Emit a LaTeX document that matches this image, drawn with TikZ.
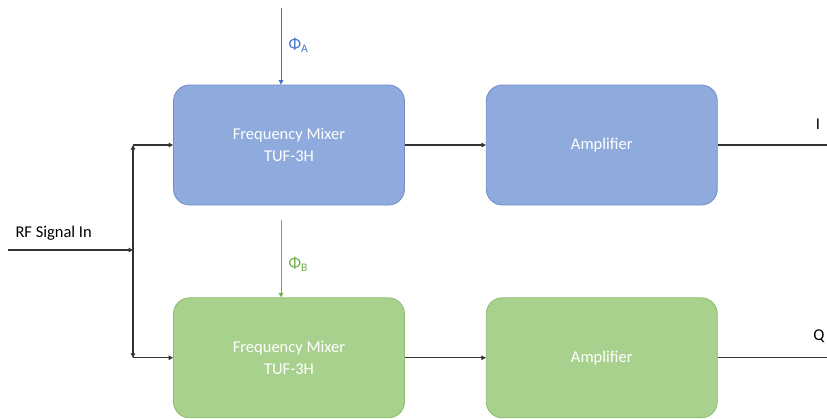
\documentclass[tikz,border=0pt]{standalone}
\usepackage{fontspec}
\setmainfont{Carlito}
\usetikzlibrary{arrows.meta,positioning,calc}
\definecolor{mixblue}{HTML}{8FAADC}
\definecolor{edgeblue}{HTML}{6F8FC8}
\definecolor{mixgreen}{HTML}{A9D18E}
\definecolor{edgegreen}{HTML}{8CBC6E}
\definecolor{phiblue}{HTML}{4472C4}
\definecolor{phigreen}{HTML}{70AD47}

\begin{document}
\begin{tikzpicture}[x=1pt,y=-1pt,every node/.style={font=\fontsize{16.5}{22}\selectfont},
  blk/.style={rounded corners=16pt,minimum width=231pt,minimum height=120pt,align=center,text=white,line width=0.8pt},
  blueblk/.style={blk,fill=mixblue,draw=edgeblue},
  greenblk/.style={blk,fill=mixgreen,draw=edgegreen},
  wire/.style={draw=black!80,line width=1.2pt},
  arr/.style={wire,-{Triangle[length=4.5pt,width=4.5pt]}}]
\useasboundingbox (0,0) rectangle (827,418);

\node[blueblk] (mixa) at (289,145) {Frequency Mixer\\TUF-3H};
\node[blueblk,right=81pt of mixa] (ampa) {Amplifier};
\node[greenblk,below=92pt of mixa] (mixb) {Frequency Mixer\\TUF-3H};
\node[greenblk,right=81pt of mixb] (ampb) {Amplifier};

\coordinate (rfin) at (8,250);
\coordinate (split) at (133,250);
\coordinate (upc) at (split |- mixa.west);
\coordinate (dnc) at (split |- mixb.west);
\coordinate (phia) at (281,8);
\coordinate (phib) at (281,220);
\coordinate (rend) at (827,0);

\node[anchor=south west] (rflab) at (12,244) {RF Signal In};
\node[text=phiblue,anchor=west] (phialab) at (285,45) {Φ\textsubscript{A}};
\node[text=phigreen,anchor=west] (phiblab) at (285,264) {Φ\textsubscript{B}};
\node (ilab) at (818,124) {I};
\node (qlab) at (819,336) {Q};

\draw[arr] (rfin) -- (split);
\draw[arr] (split) -- (upc);
\draw[arr] (split) -- (dnc);
\draw[arr] (upc) -- (mixa.west);
\draw[arr] (dnc) -- (mixb.west);
\draw[arr] (mixa) -- (ampa);
\draw[arr] (mixb) -- (ampb);
\draw[wire] (ampa.east) -- (ampa.east -| rend);
\draw[wire] (ampb.east) -- (ampb.east -| rend);

\draw[phiblue,line width=0.9pt,-{Triangle[length=4.5pt,width=4.5pt]}] (phia) -- (phia |- mixa.north);
\draw[phigreen,line width=0.9pt,-{Triangle[length=4.5pt,width=4.5pt]}] (phib) -- (phib |- mixb.north);
\end{tikzpicture}
\end{document}
